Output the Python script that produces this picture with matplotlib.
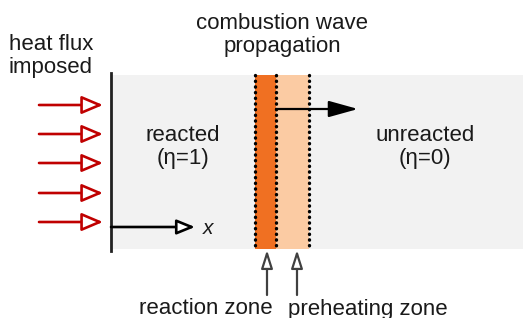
import matplotlib.pyplot as plt
from matplotlib.patches import Rectangle, FancyArrowPatch

plt.rcParams['font.family'] = ['Liberation Sans', 'DejaVu Sans']

# ------------------------
# Diagram geometry (pixel space)
# ------------------------
slab_x = [110, 523]
slab_y = [75, 249]
reaction_zone = [255, 276]
preheat_zone = [276, 309]
flux_arrow_y = [105, 134, 163, 193, 222]
flux_arrow_x = [39, 103]
pointer_x = [267, 297]

labels = {
    "flux": "heat flux\nimposed",
    "wave": "combustion wave\npropagation",
    "reacted": "reacted\n(\u03b7=1)",
    "unreacted": "unreacted\n(\u03b7=0)",
    "rz": "reaction zone",
    "pz": "preheating zone",
}

fig = plt.figure(figsize=(5.23, 3.18), dpi=100)
ax = fig.add_axes([0, 0, 1, 1])
ax.set_xlim(0, 523)
ax.set_ylim(318, 0)
ax.axis('off')

# slab background
ax.add_patch(Rectangle((slab_x[0], slab_y[0]), slab_x[1] - slab_x[0], slab_y[1] - slab_y[0],
                       color='#f2f2f2', lw=0, zorder=0))
ax.add_patch(Rectangle((reaction_zone[0], slab_y[0]), reaction_zone[1] - reaction_zone[0],
                       slab_y[1] - slab_y[0], color='#f07022', lw=0, zorder=1))
ax.add_patch(Rectangle((preheat_zone[0], slab_y[0]), preheat_zone[1] - preheat_zone[0],
                       slab_y[1] - slab_y[0], color='#fbcba3', lw=0, zorder=1))
for xv in [reaction_zone[0], reaction_zone[1], preheat_zone[1]]:
    ax.plot([xv, xv], slab_y, color='black', lw=2.4, ls=(0, (0.1, 1.6)),
            dash_capstyle='round', zorder=2)

# wall
ax.plot([111, 111], [73, 251], color='#222222', lw=2, zorder=3)

# heat flux arrows
for yv in flux_arrow_y:
    ax.add_patch(FancyArrowPatch((flux_arrow_x[0], yv), (flux_arrow_x[1], yv),
                                 arrowstyle='-|>,head_length=13,head_width=5.5',
                                 mutation_scale=1, lw=1.9, color='#c00000',
                                 fc='white', shrinkA=0, shrinkB=0, zorder=3))

# x axis arrow
ax.add_patch(FancyArrowPatch((111, 227), (195, 227),
                             arrowstyle='-|>,head_length=11,head_width=4.5',
                             mutation_scale=1, lw=1.9, color='black',
                             fc='white', shrinkA=0, shrinkB=0, zorder=3))
ax.text(203, 228, 'x', fontsize=15, style='italic', va='center', ha='left', color='#1a1a1a')

# propagation arrow
ax.add_patch(FancyArrowPatch((276, 109), (358, 109),
                             arrowstyle='-|>,head_length=18,head_width=5',
                             mutation_scale=1, lw=1.6, color='black',
                             shrinkA=0, shrinkB=0, zorder=3))

# zone pointers
for xv in pointer_x:
    ax.add_patch(FancyArrowPatch((xv, 295), (xv, 250),
                                 arrowstyle='-|>,head_length=11,head_width=3.5',
                                 mutation_scale=1, lw=1.6, color='#404040',
                                 fc='white', shrinkA=0, shrinkB=0, zorder=3))

txt = dict(fontsize=16, color='#1a1a1a', linespacing=1.15)
ax.text(9, 56, labels["flux"], ha='left', va='center', **txt)
ax.text(282, 35, labels["wave"], ha='center', va='center', **txt)
ax.text(183, 147, labels["reacted"], ha='center', va='center', **txt)
ax.text(425, 147, labels["unreacted"], ha='center', va='center', **txt)
ax.text(206, 309, labels["rz"], ha='center', va='center', **txt)
ax.text(368, 309, labels["pz"], ha='center', va='center', **txt)

fig.savefig('out.png', dpi=100)
